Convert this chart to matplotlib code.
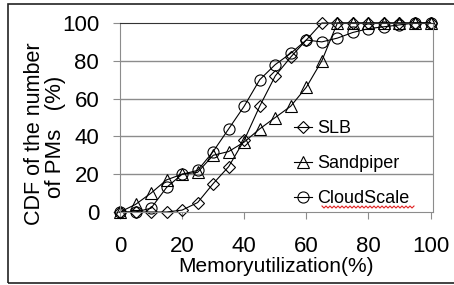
import numpy as np
import matplotlib
matplotlib.use('Agg')
import matplotlib.pyplot as plt
from matplotlib.lines import Line2D
from matplotlib.patches import Rectangle

plt.rcParams['font.family'] = ['Liberation Sans', 'DejaVu Sans']

# memory utilization (%) and CDF values
util = [0, 5, 10, 15, 20, 25, 30, 35, 40, 45, 50, 55, 60, 65, 70, 75, 80, 85, 90, 95, 100]
slb = [0, 0, 0, 0, 1, 5, 15, 24, 38, 56, 72, 82, 91, 100, 100, 100, 100, 100, 100, 100, 100]
sandpiper = [0, 4, 10, 17, 20, 21, 30, 32, 37, 44, 50, 56, 66, 80, 100, 100, 100, 100, 100, 100, 100]
cloudscale = [0, 0, 2, 13, 20, 22, 32, 44, 56, 70, 78, 84, 91, 90, 92, 95, 97, 98, 99, 100, 100]
xticks = [0, 20, 40, 60, 80, 100]
yticks = [0, 20, 40, 60, 80, 100]

W, H = 454, 285
fig = plt.figure(figsize=(W / 100, H / 100), dpi=100)
ax = fig.add_axes([120 / W, 1 - 212 / H, (433 - 120) / W, (212 - 23) / H])

grid_c = '#8c8c8c'
for y in yticks[1:-1]:
    ax.axhline(y, color=grid_c, lw=1, zorder=0)

style = dict(color='black', lw=0.8, fillstyle='none', mew=0.8, clip_on=False)
ax.plot(util, slb, marker='D', ms=6.5, label='SLB', **style)
ax.plot(util, sandpiper, marker='^', ms=8, label='Sandpiper', **style)
ax.plot(util, cloudscale, marker='o', ms=8, label='CloudScale', **style)

ax.set_xlim(0, 100.8)
ax.set_ylim(0, 100)
ax.set_xticks(xticks)
ax.set_yticks(yticks)
ax.tick_params(axis='both', labelsize=16, length=5, color=grid_c)
ax.tick_params(axis='x', pad=12)
ax.tick_params(axis='y', pad=10)
for side in ['left', 'bottom', 'right']:
    ax.spines[side].set_color(grid_c)
ax.spines['top'].set_color('#333333')

ax.set_xlabel('Memoryutilization(%)', fontsize=15, labelpad=0)

fig.text(35 / W, 1 - 134 / H, 'CDF of the number', rotation=90,
         ha='center', va='center', fontsize=15.5)
fig.text(55 / W, 1 - 137 / H, 'of PMs   (%)', rotation=90,
         ha='center', va='center', fontsize=16)

leg = ax.legend(loc='upper left', bbox_to_anchor=(294 / W, 1 - 120 / H),
                bbox_transform=fig.transFigure, frameon=False, fontsize=13,
                handlelength=1.0, handletextpad=0.3, labelspacing=1.0,
                borderpad=0, borderaxespad=0)

# red spell-check squiggle under "CloudScale"
sx = np.arange(322, 416, 2.0)
sy = 207 + np.where(np.arange(len(sx)) % 2 == 0, -1.0, 1.0)
fig.add_artist(Line2D(sx / W, 1 - sy / H, color='#e02020', lw=0.8,
                      transform=fig.transFigure))

# outer frame of the picture
fig.add_artist(Rectangle((8 / W, 2 / H), 1.2, (283 - 4) / H, fill=False,
                         ec='#222222', lw=1.2, transform=fig.transFigure))

fig.savefig('out.png', dpi=100)
